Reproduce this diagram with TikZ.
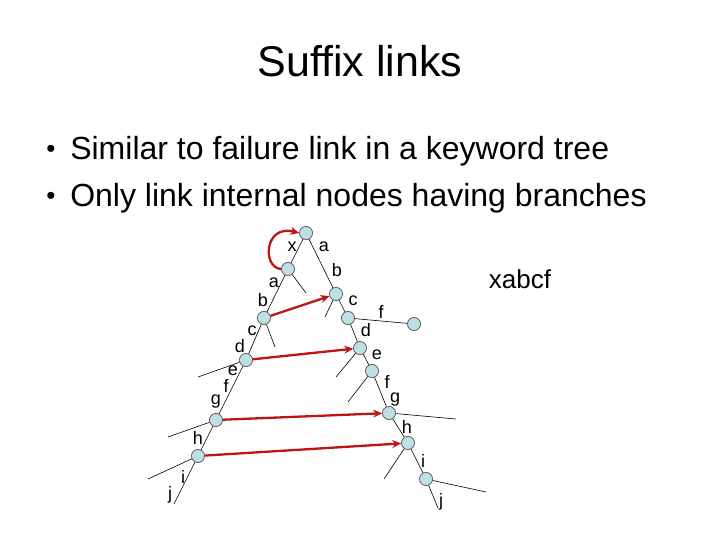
\documentclass[tikz,border=0pt]{standalone}
\usepackage{fontspec}
\setmainfont{Liberation Sans}
\usetikzlibrary{arrows.meta}
\definecolor{nodefill}{RGB}{190,224,226}
\definecolor{linkred}{RGB}{190,20,20}
\tikzset{
  vtx/.style={circle, draw=black!65, fill=nodefill, minimum size=13pt, inner sep=0pt},
  lbl/.style={inner sep=0pt, font=\fontsize{18}{21}\selectfont},
  slink/.style={draw=linkred, line width=2.3pt, -{Stealth[length=9pt,width=8pt]}},
}
\begin{document}
\begin{tikzpicture}[x=1pt, y=-1pt, line width=0.6pt]
   \useasboundingbox (0,0) rectangle (720,540);
   \node[anchor=base] (title) at (360,77) {\fontsize{43}{50}\selectfont Suffix links};
   \node[anchor=base, inner sep=0pt] (dot1) at (51,158) {\fontsize{26}{30}\selectfont •};
   \node[anchor=base west, inner sep=0pt] (line1) at (70,160) {\fontsize{32}{38}\selectfont Similar to failure link in a keyword tree};
   \node[anchor=base, inner sep=0pt] (dot2) at (51,205) {\fontsize{26}{30}\selectfont •};
   \node[anchor=base west, inner sep=0pt] (line2) at (70,207) {\fontsize{32}{38}\selectfont Only link internal nodes having branches};
   \node[anchor=base, inner sep=0pt] (word) at (520,288) {\fontsize{26}{31}\selectfont xabcf};
   % left path x a b c d e f g h i j
   \node[vtx] (r)  at (306,233) {};
   \node[vtx] (la) at (288,269) {};
   \node[vtx] (lb) at (264,318) {};
   \node[vtx] (ld) at (246,360) {};
   \node[vtx] (lg) at (216,420) {};
   \node[vtx] (lh) at (198,456) {};
   \coordinate (lj) at (174,504);
   % right path a b c d e f g h i j
   \node[vtx] (rb) at (336,294) {};
   \node[vtx] (rc) at (348,318) {};
   \node[vtx] (rf) at (414,324) {};
   \node[vtx] (rd) at (360,348) {};
   \node[vtx] (re) at (372,371) {};
   \node[vtx] (rg) at (389,413) {};
   \node[vtx] (rh) at (408,443) {};
   \node[vtx] (ri) at (426,479) {};
   \coordinate (rj) at (438,508);
   % stubs
   \coordinate (sa) at (306,293);
   \coordinate (sb) at (275,347);
   \coordinate (sd) at (198,377);
   \coordinate (sg) at (168,437);
   \coordinate (sh) at (148,479);
   \coordinate (tb) at (325,317);
   \coordinate (td) at (336,377);
   \coordinate (te) at (348,402);
   \coordinate (tg) at (456,419);
   \coordinate (th) at (384,479);
   \coordinate (ti) at (486,492);
   \draw (r) -- (la) -- (lb) -- (ld) -- (lg) -- (lh) -- (lj);
   \draw (r) -- (rb) -- (rc) -- (rd) -- (re) -- (rg) -- (rh) -- (ri) -- (rj);
   \draw (rc) -- (rf);
   \draw (la) -- (sa);  \draw (lb) -- (sb);  \draw (ld) -- (sd);
   \draw (lg) -- (sg);  \draw (lh) -- (sh);
   \draw (rb) -- (tb);  \draw (rd) -- (td);  \draw (re) -- (te);
   \draw (rg) -- (tg);  \draw (rh) -- (th);  \draw (ri) -- (ti);
   \foreach \n in {r,la,lb,ld,lg,lh,rb,rc,rf,rd,re,rg,rh,ri}
      \node[vtx] at (\n) {};
   % suffix links
   \draw[slink] (la.west) .. controls (262,268) and (264,224) .. (r.west);
   \draw[slink] (lb) -- (rb);
   \draw[slink] (ld) -- (rd);
   \draw[slink] (lg) -- (rg);
   \draw[slink] (lh) -- (rh);
   % edge labels
   \node[lbl] (x1) at (292,247) {x};
   \node[lbl] (a1) at (274,283) {a};
   \node[lbl] (b1) at (263,300) {b};
   \node[lbl] (c1) at (252,331) {c};
   \node[lbl] (d1) at (240,346) {d};
   \node[lbl] (e1) at (233,371) {e};
   \node[lbl] (f1) at (226,386) {f};
   \node[lbl] (g1) at (216,402) {g};
   \node[lbl] (h1) at (198,438) {h};
   \node[lbl] (i1) at (183,477) {i};
   \node[lbl] (j1) at (170,495) {j};
   \node[lbl] (a2) at (324,247) {a};
   \node[lbl] (b2) at (337,270) {b};
   \node[lbl] (c2) at (353,301) {c};
   \node[lbl] (f3) at (381,312) {f};
   \node[lbl] (d2) at (366,330) {d};
   \node[lbl] (e2) at (377,355) {e};
   \node[lbl] (f2) at (387,382) {f};
   \node[lbl] (g2) at (395,400) {g};
   \node[lbl] (h2) at (407,427) {h};
   \node[lbl] (i2) at (423,461) {i};
   \node[lbl] (j2) at (441,502) {j};
\end{tikzpicture}
\end{document}
